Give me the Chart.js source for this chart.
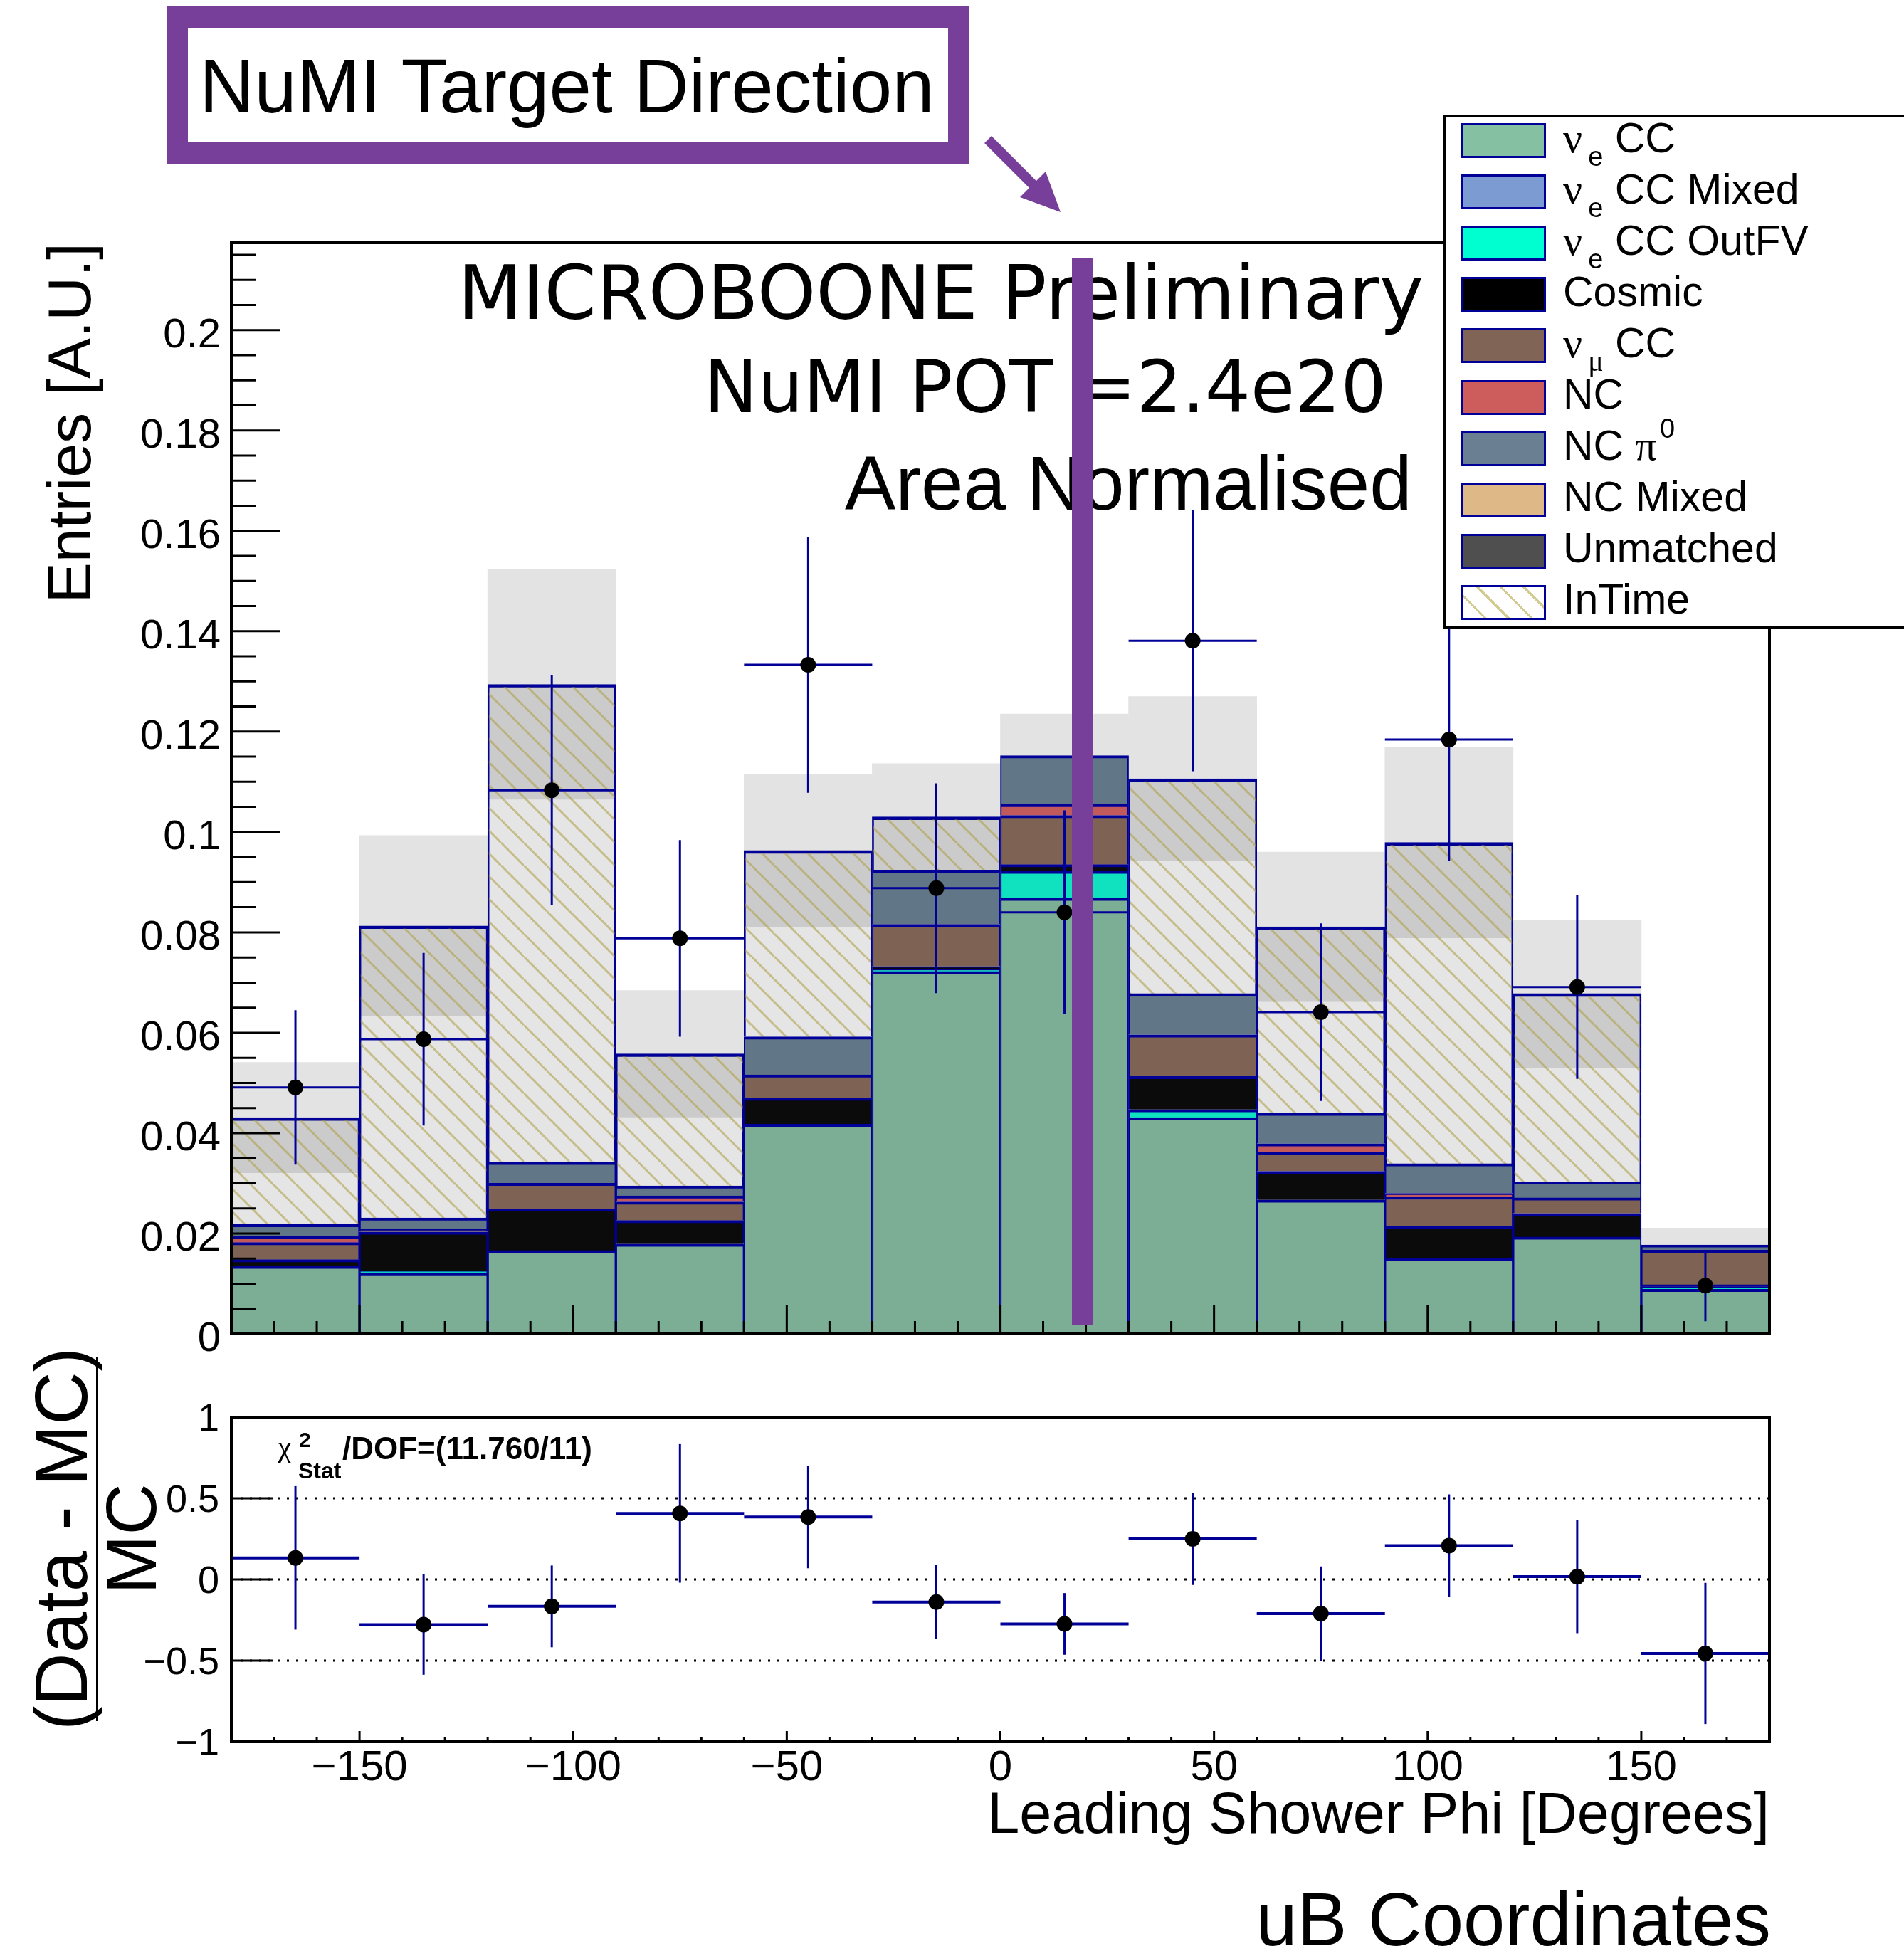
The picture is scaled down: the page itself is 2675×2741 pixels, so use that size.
<!DOCTYPE html>
<html>
<head>
<meta charset="utf-8">
<title>Leading Shower Phi</title>
<script src="https://cdn.jsdelivr.net/npm/chart.js@4.4.1/dist/chart.umd.min.js"></script>
<style>
  html, body { margin: 0; padding: 0; background: #fff; }
  #page { position: relative; width: 2675px; height: 2741px; overflow: hidden; background: #fff; color: #000; }
  #page canvas { position: absolute; left: 0; top: 0; }
  .txt { position: absolute; white-space: nowrap; color: #000; z-index: 1; }
  .gr { font-family: 'Liberation Serif', 'DejaVu Serif', serif; font-size: 60px; }
  .sb { font-size: 38px; position: relative; top: 19px; margin-left: 8px; }
  .sp { font-size: 38px; position: relative; top: -31px; margin-left: 4px; }
  #legend { position: absolute; left: 2028px; top: 161px; width: 680px; height: 722px; box-sizing: border-box;
            border: 3px solid #000; background: #fff; z-index: 5; font: 59px/72px 'Liberation Sans', sans-serif; }
  .row { position: absolute; left: 0; height: 72px; width: 100%; }
  .sw { position: absolute; left: 22px; top: 11.5px; width: 119px; height: 49px; box-sizing: border-box; border: 3px solid #000099; }
  .lab { position: absolute; left: 165px; top: -4px; white-space: nowrap; }
  #numiBox { position: absolute; left: 234px; top: 9px; width: 1128px; height: 221px; box-sizing: border-box;
             border: 30px solid #773f99; background: #fff; z-index: 1; }
  #numiBar { position: absolute; background: #773f99; z-index: 3; }
  #ratioTitle { position: absolute; left: -145px; top: 2070px; width: 560px; height: 184px; transform: rotate(-90deg);
                transform-origin: 50% 50%; display: flex; flex-direction: column; align-items: center; z-index: 1;
                font-family: 'Liberation Sans', sans-serif; }
</style>
</head>
<body>
<div id="page">
  <canvas id="main" width="2675" height="2741"></canvas>
  <canvas id="ratio" width="2675" height="2741"></canvas>

  <div id="numiBox"></div>
  <div class="txt" style="left:280px;top:68px;font:107px/1 'Liberation Sans'">NuMI Target Direction</div>
  <svg style="position:absolute;left:0;top:0;z-index:1" width="1600" height="340">
    <line x1="1388" y1="196" x2="1456" y2="264" stroke="#773f99" stroke-width="14"/>
    <polygon points="1490,298 1469,241 1433,277" fill="#773f99"/>
  </svg>

  <div class="txt" style="left:643px;top:360px;font:105px/1 'DejaVu Sans'">MICROBOONE Preliminary</div>
  <div class="txt" style="left:989px;top:494px;font:101px/1 'DejaVu Sans'">NuMI POT =2.4e20</div>
  <div class="txt" style="left:1187px;top:626px;font:107px/1 'Liberation Sans'">Area Normalised</div>
  <div id="numiBar"></div>

  <div class="txt" style="left:390px;top:2011px;font:44px/1 'Liberation Serif'">χ</div>
  <div class="txt" style="left:420px;top:2008px;font:bold 30px/1 'Liberation Sans'">2</div>
  <div class="txt" style="left:419px;top:2050px;font:bold 32px/1 'Liberation Sans'">Stat</div>
  <div class="txt" style="left:481px;top:2013px;font:bold 44px/1 'Liberation Sans'">/DOF=(11.760/11)</div>

  <div id="ratioTitle">
    <div style="font-size:103px;line-height:0.85">(Data - MC)</div>
    <div style="width:512px;height:3px;background:#000;margin-top:4px"></div>
    <div style="font-size:100px;line-height:0.85;margin-top:4px">MC</div>
  </div>

  <div class="txt" style="right:187px;top:2644px;font:105px/1 'Liberation Sans'">uB Coordinates</div>

  <div id="legend"></div>
</div>

<script>
// 30 degree bins in leading shower phi
const BIN_EDGES   = [-180, -150, -120, -90, -60, -30, 0, 30, 60, 90, 120, 150, 180];
const BIN_CENTERS = [-165, -135, -105, -75, -45, -15, 15, 45, 75, 105, 135, 165];

// stacked MC, area normalised
const NUE_CC       = [0.0135, 0.0122, 0.0166, 0.0179, 0.0418, 0.0722, 0.0868, 0.0431, 0.0267, 0.0151, 0.0193, 0.0089];
const NUE_CC_MIXED = [0, 0, 0, 0, 0, 0, 0, 0, 0, 0, 0, 0];
const NUE_CC_OUTFV = [0, 0.0003, 0, 0, 0, 0.0004, 0.0054, 0.0016, 0, 0, 0, 0.0005];
const COSMIC       = [0.0013, 0.0078, 0.0083, 0.0047, 0.0052, 0.0006, 0.0013, 0.0066, 0.0057, 0.0063, 0.0047, 0];
const NUMU_CC      = [0.0034, 0.0005, 0.0051, 0.0037, 0.0046, 0.0084, 0.0098, 0.0083, 0.0037, 0.0059, 0.0031, 0.0073];
const NC           = [0.0012, 0, 0, 0.0012, 0, 0, 0.0022, 0, 0.0018, 0.0007, 0, 0];
const NC_PI0       = [0.0024, 0.0023, 0.0042, 0.0020, 0.0076, 0.0108, 0.0097, 0.0082, 0.0061, 0.0059, 0.0032, 0.0010];
const NC_MIXED     = [0, 0, 0, 0, 0, 0, 0, 0, 0, 0, 0, 0];
const UNMATCHED    = [0, 0, 0, 0, 0, 0, 0, 0, 0, 0, 0, 0];
const INTIME       = [0.0213, 0.0582, 0.0952, 0.0263, 0.0371, 0.0106, 0, 0.0428, 0.0371, 0.0640, 0.0375, 0];
const MC_ERR       = [0.0110, 0.0180, 0.0229, 0.0126, 0.0152, 0.0106, 0.0083, 0.0164, 0.0149, 0.0190, 0.0147, 0.0034];

// data points
const DATA     = [0.0491, 0.0587, 0.1083, 0.0788, 0.1333, 0.0888, 0.0840, 0.1381, 0.0641, 0.1184, 0.0691, 0.0096];
const DATA_ERR = [0.0154, 0.0172, 0.0229, 0.0196, 0.0255, 0.0209, 0.0203, 0.0260, 0.0177, 0.0241, 0.0183, 0.0071];

// (Data - MC) / MC
const RATIO     = [0.133, -0.278, -0.166, 0.407, 0.385, -0.139, -0.274, 0.250, -0.210, 0.208, 0.017, -0.456];
const RATIO_ERR = [0.442, 0.309, 0.252, 0.427, 0.316, 0.228, 0.190, 0.284, 0.290, 0.316, 0.348, 0.435];

const Y_MAX         = 0.2174;
const Y_TICKS       = [0, 0.02, 0.04, 0.06, 0.08, 0.1, 0.12, 0.14, 0.16, 0.18, 0.2];
const Y_TICK_LABELS = ['0', '0.02', '0.04', '0.06', '0.08', '0.1', '0.12', '0.14', '0.16', '0.18', '0.2'];
const R_TICKS       = [-1, -0.5, 0, 0.5, 1];
const R_TICK_LABELS = ['\u22121', '\u22120.5', '0', '0.5', '1'];
const R_REF_LINES   = [-0.5, 0, 0.5];
const X_TICKS       = [-150, -100, -50, 0, 50, 100, 150];
const X_TICK_LABELS = ['\u2212150', '\u2212100', '\u221250', '0', '50', '100', '150'];

const NUMI_DIR       = 19.2;          // degrees
const NUMI_BAR_RANGE = [0.0017, 0.2143];

const NAVY = '#000099';

function makeHatch(bg, line, size) {
  const c = document.createElement('canvas');
  c.width = size; c.height = size;
  const g = c.getContext('2d');
  g.fillStyle = bg;
  g.fillRect(0, 0, size, size);
  g.strokeStyle = line;
  g.lineWidth = 3;
  g.beginPath();
  for (const k of [-1, 0, 1]) {
    g.moveTo(0, k * size);
    g.lineTo(size, size + k * size);
  }
  g.stroke();
  return g.createPattern(c, 'repeat');
}
const hatch = makeHatch('rgba(0,0,0,0.10)', 'rgba(170,155,60,0.55)', 32);

const SERIES = [
  { label: 'νe CC',        data: NUE_CC,       fill: '#7bae95', swatch: '#86c0a2', html: '<span class="gr">ν</span><span class="sb">e</span> CC' },
  { label: 'νe CC Mixed',  data: NUE_CC_MIXED, fill: '#7393c8', swatch: '#7b9bd2', html: '<span class="gr">ν</span><span class="sb">e</span> CC Mixed' },
  { label: 'νe CC OutFV',  data: NUE_CC_OUTFV, fill: '#10e2bf', swatch: '#00ffd0', html: '<span class="gr">ν</span><span class="sb">e</span> CC OutFV' },
  { label: 'Cosmic',       data: COSMIC,       fill: '#0b0b0b', swatch: '#000000', html: 'Cosmic' },
  { label: 'νμ CC',        data: NUMU_CC,      fill: '#7e6254', swatch: '#806456', html: '<span class="gr">ν</span><span class="sb gr" style="font-size:40px">μ</span> CC' },
  { label: 'NC',           data: NC,           fill: '#c25a5c', swatch: '#cd5c5c', html: 'NC' },
  { label: 'NC π0',        data: NC_PI0,       fill: '#617686', swatch: '#6a8092', html: 'NC <span class="gr">π</span><span class="sp">0</span>' },
  { label: 'NC Mixed',     data: NC_MIXED,     fill: '#d9b484', swatch: '#deb887', html: 'NC Mixed' },
  { label: 'Unmatched',    data: UNMATCHED,    fill: '#4a4a4a', swatch: '#4f4f4f', html: 'Unmatched' },
  { label: 'InTime',       data: INTIME,       fill: hatch,     swatch: 'hatch',   html: 'InTime' },
];

const total = BIN_CENTERS.map((_, i) => SERIES.reduce((s, d) => s + d.data[i], 0));

Chart.defaults.font.family = "'Liberation Sans', Arial, sans-serif";
Chart.defaults.color = '#000';

// error bars under the points, then inward ROOT-style ticks and the frame
const mainDecor = {
  id: 'mainDecor',
  beforeDatasetDraw(chart, args) {
    if (args.meta.type !== 'line') return;
    const { ctx, scales: { xl, y } } = chart;
    ctx.save();
    ctx.strokeStyle = NAVY;
    ctx.lineWidth = 3;
    DATA.forEach((v, i) => {
      const x = xl.getPixelForValue(BIN_CENTERS[i]);
      const py = y.getPixelForValue(v);
      ctx.beginPath();
      ctx.moveTo(x, y.getPixelForValue(v - DATA_ERR[i]));
      ctx.lineTo(x, y.getPixelForValue(v + DATA_ERR[i]));
      ctx.moveTo(xl.getPixelForValue(BIN_EDGES[i]), py);
      ctx.lineTo(xl.getPixelForValue(BIN_EDGES[i + 1]), py);
      ctx.stroke();
    });
    ctx.restore();
  },
  afterDatasetsDraw(chart) {
    const { ctx, chartArea: a, scales: { xl, y } } = chart;
    ctx.save();
    ctx.strokeStyle = '#000';
    ctx.lineWidth = 3;
    ctx.beginPath();
    for (let k = 0; k * 0.005 <= Y_MAX; k++) {
      const py = y.getPixelForValue(k * 0.005);
      ctx.moveTo(a.left, py);
      ctx.lineTo(a.left + (k % 4 === 0 ? 68 : 34), py);
    }
    for (let d = -180; d <= 180; d += 10) {
      const px = xl.getPixelForValue(d);
      ctx.moveTo(px, a.bottom);
      ctx.lineTo(px, a.bottom - (d % 50 === 0 ? 40 : 18));
    }
    ctx.stroke();
    ctx.lineWidth = 4;
    ctx.strokeRect(a.left, a.top, a.right - a.left, a.bottom - a.top);
    ctx.restore();
  }
};

// every bar sits on its own bin centre (grouped: false) so each bin is filled edge to edge
const barCommon = { type: 'bar', xAxisID: 'x', grouped: false, barPercentage: 1, categoryPercentage: 1 };

const mainChart = new Chart(document.getElementById('main'), {
  type: 'bar',
  data: {
    labels: BIN_CENTERS.map(String),
    datasets: [
      {
        ...barCommon, label: 'MC error', stack: 'band', order: 2,
        data: total.map((t, i) => [t - MC_ERR[i], t + MC_ERR[i]]),
        backgroundColor: '#e3e3e3', borderWidth: 0
      },
      ...SERIES.map(s => ({
        ...barCommon, label: s.label, data: s.data, stack: 'mc', order: 1,
        backgroundColor: s.fill, borderColor: NAVY,
        borderWidth: { top: 4, right: 2, bottom: 0, left: 2 }, borderSkipped: false
      })),
      {
        type: 'line', label: 'Data', xAxisID: 'xl', order: 0,
        data: BIN_CENTERS.map((x, i) => ({ x, y: DATA[i] })),
        showLine: false, pointRadius: 11, pointHoverRadius: 11,
        pointBackgroundColor: '#000', pointBorderWidth: 0
      }
    ]
  },
  options: {
    responsive: false,
    animation: false,
    devicePixelRatio: 1,
    layout: { padding: { left: 0, top: 341, right: 189, bottom: 867 } },
    plugins: { legend: { display: false }, tooltip: { enabled: false } },
    scales: {
      x: { type: 'category', display: false, offset: true, grid: { offset: true } },
      xl: { type: 'linear', display: false, min: -180, max: 180, offset: false, grid: { offset: false }, position: 'bottom' },
      y: {
        type: 'linear', stacked: true, min: 0, max: Y_MAX, bounds: 'data', position: 'left',
        afterFit: s => { s.width = 325; },
        afterBuildTicks: s => { s.ticks = Y_TICKS.map(v => ({ value: v })); },
        ticks: { padding: 15, labelOffset: 8, color: '#000', font: { size: 58 }, callback: (v, i) => Y_TICK_LABELS[i] },
        grid: { display: false, drawTicks: false },
        border: { display: false },
        title: {
          display: true, text: 'Entries [A.U.]', align: 'end', color: '#000',
          font: { size: 86 }, padding: { top: 52, bottom: 0 }
        }
      }
    }
  },
  plugins: [mainDecor]
});

const ratioDecor = {
  id: 'ratioDecor',
  beforeDatasetsDraw(chart) {
    const { ctx, chartArea: a, scales: { x, y } } = chart;
    ctx.save();
    ctx.strokeStyle = '#000';
    ctx.lineWidth = 3;
    ctx.setLineDash([3, 10]);
    ctx.beginPath();
    R_REF_LINES.forEach(v => {
      const py = y.getPixelForValue(v);
      ctx.moveTo(a.left, py);
      ctx.lineTo(a.right, py);
    });
    ctx.stroke();
    ctx.setLineDash([]);
    ctx.strokeStyle = NAVY;
    RATIO.forEach((v, i) => {
      const px = x.getPixelForValue(BIN_CENTERS[i]);
      const py = y.getPixelForValue(v);
      ctx.lineWidth = 3;
      ctx.beginPath();
      ctx.moveTo(px, y.getPixelForValue(v - RATIO_ERR[i]));
      ctx.lineTo(px, y.getPixelForValue(v + RATIO_ERR[i]));
      ctx.stroke();
      ctx.lineWidth = 4;
      ctx.beginPath();
      ctx.moveTo(x.getPixelForValue(BIN_EDGES[i]), py);
      ctx.lineTo(x.getPixelForValue(BIN_EDGES[i + 1]), py);
      ctx.stroke();
    });
    ctx.restore();
  },
  afterDatasetsDraw(chart) {
    const { ctx, chartArea: a, scales: { x, y } } = chart;
    ctx.save();
    ctx.strokeStyle = '#000';
    ctx.lineWidth = 3;
    ctx.beginPath();
    R_TICKS.forEach(v => {
      const py = y.getPixelForValue(v);
      ctx.moveTo(a.left, py);
      ctx.lineTo(a.left + 58, py);
    });
    for (let d = -180; d <= 180; d += 10) {
      const px = x.getPixelForValue(d);
      ctx.moveTo(px, a.bottom);
      ctx.lineTo(px, a.bottom - (d % 50 === 0 ? 15 : 7));
    }
    ctx.stroke();
    ctx.lineWidth = 4;
    ctx.strokeRect(a.left, a.top, a.right - a.left, a.bottom - a.top);
    ctx.restore();
  }
};

new Chart(document.getElementById('ratio'), {
  type: 'scatter',
  data: {
    datasets: [{
      label: '(Data - MC)/MC',
      data: BIN_CENTERS.map((x, i) => ({ x, y: RATIO[i] })),
      pointRadius: 11, pointHoverRadius: 11,
      pointBackgroundColor: '#000', pointBorderWidth: 0
    }]
  },
  options: {
    responsive: false,
    animation: false,
    devicePixelRatio: 1,
    layout: { padding: { left: 0, top: 1991, right: 189, bottom: 124 } },
    plugins: { legend: { display: false }, tooltip: { enabled: false } },
    scales: {
      x: {
        type: 'linear', min: -180, max: 180, bounds: 'data', offset: false,
        afterFit: s => { s.height = 170; },
        afterBuildTicks: s => { s.ticks = X_TICKS.map(v => ({ value: v })); },
        ticks: { padding: 1, autoSkip: false, maxRotation: 0, color: '#000', font: { size: 60 },
                 callback: (v, i) => X_TICK_LABELS[i] },
        grid: { display: false, drawTicks: false },
        border: { display: false },
        title: {
          display: true, text: 'Leading Shower Phi [Degrees]', align: 'end', color: '#000',
          font: { size: 81 }, padding: { top: 0, bottom: 16 }
        }
      },
      y: {
        type: 'linear', min: -1, max: 1, bounds: 'data',
        afterFit: s => { s.width = 325; },
        afterBuildTicks: s => { s.ticks = R_TICKS.map(v => ({ value: v })); },
        ticks: { padding: 17, labelOffset: 4, color: '#000', font: { size: 54 }, callback: (v, i) => R_TICK_LABELS[i] },
        grid: { display: false, drawTicks: false },
        border: { display: false }
      }
    }
  },
  plugins: [ratioDecor]
});

// NuMI direction marker, placed through the main chart's scales
const bar = document.getElementById('numiBar');
const barX = mainChart.scales.xl.getPixelForValue(NUMI_DIR);
const barTop = mainChart.scales.y.getPixelForValue(NUMI_BAR_RANGE[1]);
const barBot = mainChart.scales.y.getPixelForValue(NUMI_BAR_RANGE[0]);
bar.style.left = (barX - 14.5) + 'px';
bar.style.width = '29px';
bar.style.top = barTop + 'px';
bar.style.height = (barBot - barTop) + 'px';

// legend box
const legend = document.getElementById('legend');
SERIES.forEach((s, i) => {
  const row = document.createElement('div');
  row.className = 'row';
  row.style.top = (-2.5 + 72.1 * i) + 'px';
  const sw = document.createElement('div');
  sw.className = 'sw';
  if (s.swatch === 'hatch') {
    sw.style.background = 'repeating-linear-gradient(45deg, #fff 0 20px, #d3cb92 20px 23px)';
  } else {
    sw.style.background = s.swatch;
  }
  const lab = document.createElement('div');
  lab.className = 'lab';
  lab.innerHTML = s.html;
  row.appendChild(sw);
  row.appendChild(lab);
  legend.appendChild(row);
});
</script>
</body>
</html>
